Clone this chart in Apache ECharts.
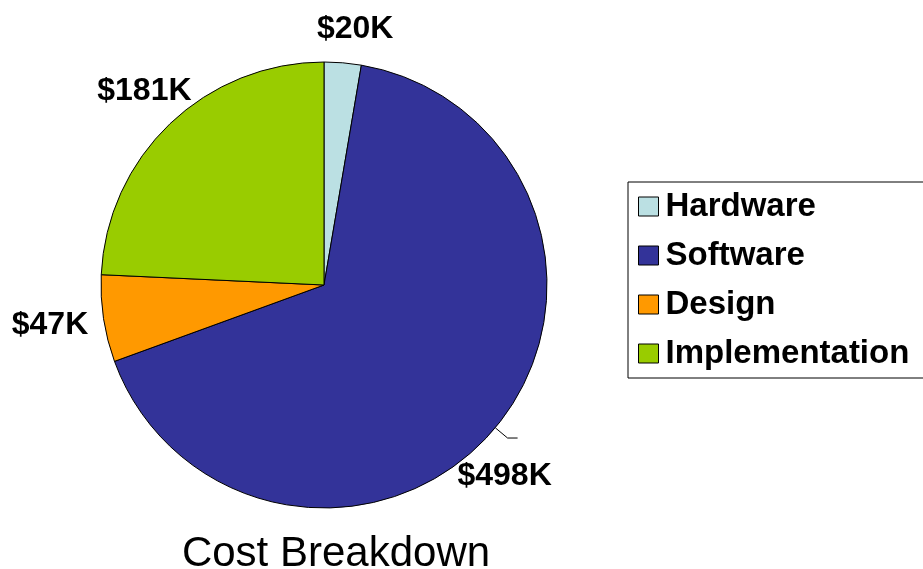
<!DOCTYPE html>
<html>
<head>
<meta charset="utf-8">
<script src="https://cdn.jsdelivr.net/npm/echarts@6/dist/echarts.min.js"></script>
<style>
  html, body { margin: 0; padding: 0; background: #fff; }
  #chart { width: 923px; height: 569px; }
</style>
</head>
<body>
<div id="chart"></div>
<script>
// cost breakdown, values in $K
const categories = ['Hardware', 'Software', 'Design', 'Implementation']
const values = [20, 498, 47, 181]
const colors = ['#BBE0E3', '#333399', '#FF9900', '#99CC00']

// small nudges so the labels sit where the original put them
const labelNudge = [[4, 6], [-18, 38], [-9, 0], [7, -4]]

const FONT = '"Liberation Sans", Arial, sans-serif'

const chart = echarts.init(document.getElementById('chart'), null, { renderer: 'canvas' })

chart.setOption({
  animation: false,
  title: {
    text: 'Cost Breakdown',
    left: 331,
    top: 528,
    textAlign: 'center',
    textStyle: { fontFamily: FONT, fontSize: 42, fontWeight: 'normal', color: '#000' },
  },
  legend: {
    orient: 'vertical',
    left: 628,
    top: 182,
    padding: [8, 30, 8, 10],
    itemGap: 16,
    itemWidth: 20,
    itemHeight: 19,
    borderColor: '#000',
    borderWidth: 1,
    icon: 'rect',
    itemStyle: { borderColor: '#000', borderWidth: 1 },
    textStyle: { fontFamily: FONT, fontSize: 33, fontWeight: 'bold', color: '#000', lineHeight: 33, padding: [0, 0, 0, 2] },
    data: categories,
  },
  series: [
    {
      type: 'pie',
      center: [324, 285],
      radius: 223,
      startAngle: 90,
      clockwise: true,
      itemStyle: { borderColor: '#000', borderWidth: 1 },
      label: {
        position: 'outside',
        formatter: (p) => '$' + p.value + 'K',
        fontFamily: FONT,
        fontSize: 32,
        fontWeight: 'bold',
        color: '#000',
        overflow: 'none',
      },
      labelLine: { show: false, length: 40, length2: 0, lineStyle: { color: '#000', width: 1 } },
      labelLayout: (p) => ({
        align: 'center',
        verticalAlign: 'middle',
        dx: labelNudge[p.dataIndex][0],
        dy: labelNudge[p.dataIndex][1],
      }),
      emphasis: { disabled: true },
      data: categories.map((name, i) => ({
        name,
        value: values[i],
        itemStyle: { color: colors[i] },
        labelLine: i === 1 ? { show: true, length: 16, length2: 10, lineStyle: { color: '#000', width: 1 } } : undefined,
      })),
    },
  ],
})
</script>
</body>
</html>
